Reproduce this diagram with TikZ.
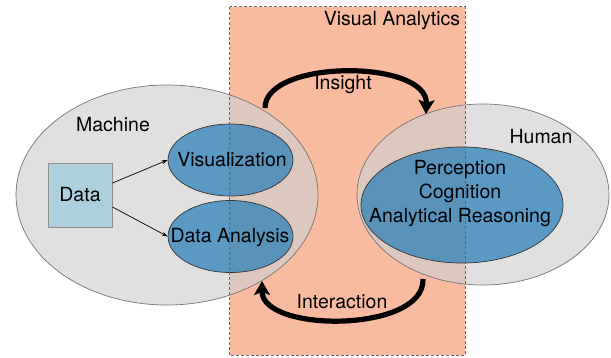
\documentclass[tikz,border=0pt]{standalone}
\usepackage{fontspec}
\setmainfont{TeX Gyre Heros}
\usetikzlibrary{arrows.meta,shapes.geometric}
\definecolor{vafill}{HTML}{F8BBA0}
\definecolor{grayfill}{HTML}{D0D0D0}
\definecolor{bluefill}{RGB}{33,125,184}
\definecolor{datafill}{HTML}{AECFDE}
\tikzset{every node/.style={inner sep=0pt, font=\fontsize{19.5}{24}\selectfont}}
\tikzset{outer/.style={ellipse, draw=black!55, line width=0.7pt, fill=grayfill, fill opacity=0.65}}
\tikzset{inner/.style={ellipse, draw=black!80, line width=0.7pt, fill=bluefill, fill opacity=0.7}}
\tikzset{databox/.style={rectangle, draw=black!45, line width=1pt, fill=datafill}}
\tikzset{loop/.style={line width=5.2pt, -{Stealth[length=14pt,width=16pt,inset=3pt]}}}

\begin{document}
\begin{tikzpicture}[x=1pt,y=-1pt]
\useasboundingbox (0,0) rectangle (611,357);
\node[fill=vafill, minimum width=235, minimum height=348] (va) at (347.5,181) {};
\node[outer, minimum width=302, minimum height=220] (machine) at (167,195) {};
\node[outer, minimum width=252, minimum height=181] (human) at (483,194.5) {};
\node[inner, minimum width=125, minimum height=72] (vis) at (230.5,160) {};
\node[inner, minimum width=125, minimum height=72] (ana) at (230.5,236.5) {};
\node[inner, minimum width=202, minimum height=116] (percep) at (462,205) {};
\node[databox, minimum width=64, minimum height=64] (data) at (80,195) {};
\draw[black!60, dash pattern=on 3pt off 2pt, line width=0.8pt] (va.north west) rectangle (va.south east);
% labels
\node (va-t) at (392,21) {Visual Analytics};
\node (machine-t) at (113,125) {Machine};
\node (human-t) at (541,137) {Human};
\node (data-t) at (data) {Data};
\node (vis-t) at (232,160) {Visualization};
\node (ana-t) at (230,238) {Data Analysis};
\node[align=center] (percep-t) at (460,194) {Perception\\Cognition\\Analytical Reasoning};
\node (insight-t) at (343,85) {Insight};
\node (inter-t) at (342,302) {Interaction};
% connectors
\draw[-{Stealth[length=6pt,width=4pt]}, line width=0.7pt] ([yshift=12pt]data.east) -- (vis.west);
\draw[-{Stealth[length=6pt,width=4pt]}, line width=0.7pt] ([yshift=-12pt]data.east) -- (ana.west);
\coordinate (ins-a) at (265,108);
\coordinate (ins-b) at (426,114);
\coordinate (int-a) at (423,279);
\coordinate (int-b) at (262,281);
\draw[loop] (ins-a) .. controls (265,59) and (428,59) .. (ins-b);
\draw[loop] (int-a) .. controls (425,333) and (262,333) .. (int-b);
\end{tikzpicture}
\end{document}
